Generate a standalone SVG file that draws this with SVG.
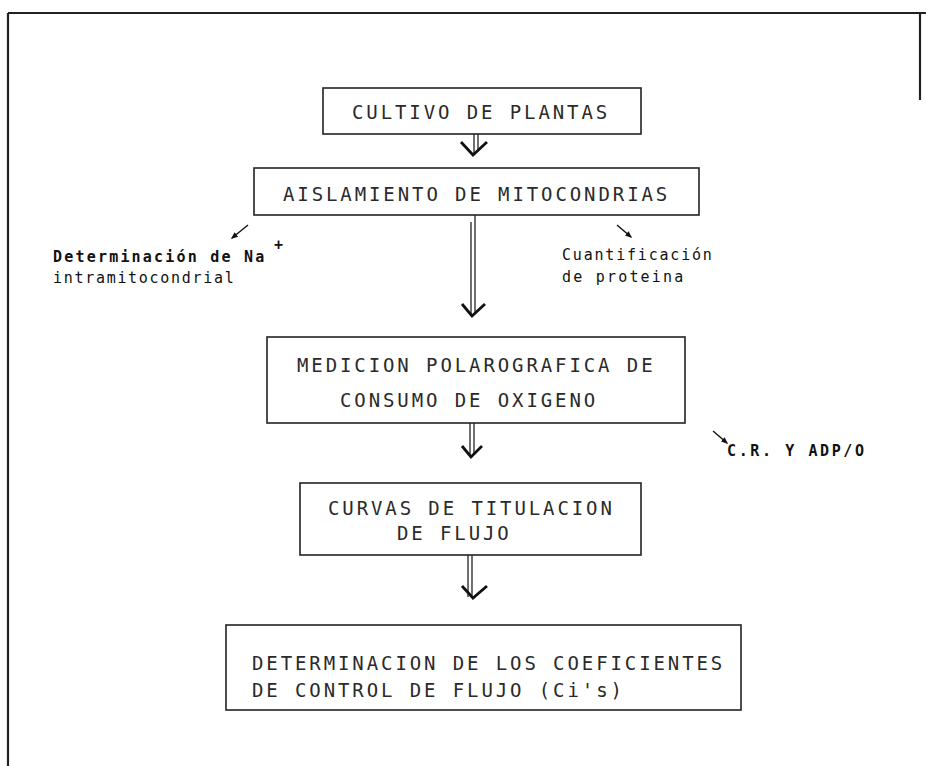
<svg xmlns="http://www.w3.org/2000/svg" width="926" height="766" viewBox="0 0 926 766">
<style>
.box{fill:none;stroke:#222;stroke-width:1.6}
.frame{stroke:#222;stroke-width:2.2;fill:none}
.t{font-family:"DejaVu Sans Mono","Liberation Mono",monospace;font-size:19px;letter-spacing:2.9px;fill:#2a2a2a}
.a{font-family:"DejaVu Sans Mono","Liberation Mono",monospace;font-size:15px;letter-spacing:2.2px;fill:#111}
.b{font-weight:bold}
.shaft{stroke:#222;stroke-width:1.3;fill:none}
.head{stroke:#111;stroke-width:2.8;fill:none;stroke-linejoin:miter}
.small{stroke:#111;stroke-width:1.4;fill:none;marker-end:url(#ah)}
</style>
<defs>
<marker id="ah" viewBox="0 0 10 10" refX="8" refY="5" markerWidth="5" markerHeight="5" orient="auto"><path d="M0,1 L10,5 L0,9 z" fill="#111"/></marker>
</defs>
<rect width="926" height="766" fill="#fff"/>
<g id="frame">
<line class="frame" x1="8" y1="13" x2="926" y2="13"/>
<line class="frame" x1="8" y1="13" x2="8" y2="766"/>
<line class="frame" x1="920" y1="13" x2="920" y2="100" stroke-width="1.2"/>
</g>
<g id="n1"><rect class="box" x="323" y="88" width="318" height="46"/><text class="t" x="352" y="119">CULTIVO DE PLANTAS</text></g>
<g id="n2"><rect class="box" x="254" y="168" width="445" height="47"/><text class="t" x="283" y="201">AISLAMIENTO DE MITOCONDRIAS</text></g>
<g id="n3"><rect class="box" x="267" y="337" width="418" height="86"/><text class="t" x="297" y="372">MEDICION POLAROGRAFICA DE</text><text class="t" x="340" y="407">CONSUMO DE OXIGENO</text></g>
<g id="n4"><rect class="box" x="300" y="483" width="341" height="72"/><text class="t" x="328" y="515">CURVAS DE TITULACION</text><text class="t" x="397" y="540">DE FLUJO</text></g>
<g id="n5"><rect class="box" x="226" y="625" width="515" height="85"/><text class="t" x="252" y="670">DETERMINACION DE LOS COEFICIENTES</text><text class="t" x="252" y="697">DE CONTROL DE FLUJO (Ci's)</text></g>
<g id="ann1"><text class="a b" x="53" y="262">Determinación de Na</text><text class="a b" x="274" y="250" font-size="13">+</text><text class="a" x="53" y="283" style="letter-spacing:1.7px">intramitocondrial</text></g>
<g id="ann2"><text class="a" x="562" y="260" style="letter-spacing:1.8px">Cuantificación</text><text class="a" x="562" y="282">de proteina</text></g>
<g id="ann3"><text class="a b" x="727" y="456" style="letter-spacing:2.6px">C.R.  Y  ADP/O</text></g>
<g id="connectors">
<line class="shaft" x1="474" y1="134" x2="474" y2="153"/><line class="shaft" x1="478" y1="134" x2="478" y2="151"/>
<polyline class="head" points="461,142 473,155 487,142"/>
<line class="shaft" x1="471" y1="222" x2="471" y2="316"/><line class="shaft" x1="475" y1="215" x2="475" y2="314"/>
<polyline class="head" points="462,304 472,316 485,304"/>
<line class="shaft" x1="470" y1="423" x2="470" y2="456"/><line class="shaft" x1="474" y1="423" x2="474" y2="454"/>
<polyline class="head" points="462,446 471,457 482,446"/>
<line class="shaft" x1="468" y1="555" x2="468" y2="597"/><line class="shaft" x1="472" y1="555" x2="472" y2="595"/>
<polyline class="head" points="462,586 473,598 487,586"/>
<line class="small" x1="248" y1="225" x2="232" y2="238"/>
<line class="small" x1="617" y1="225" x2="631" y2="237"/>
<line class="small" x1="713" y1="431" x2="727" y2="443"/>
</g>
</svg>
